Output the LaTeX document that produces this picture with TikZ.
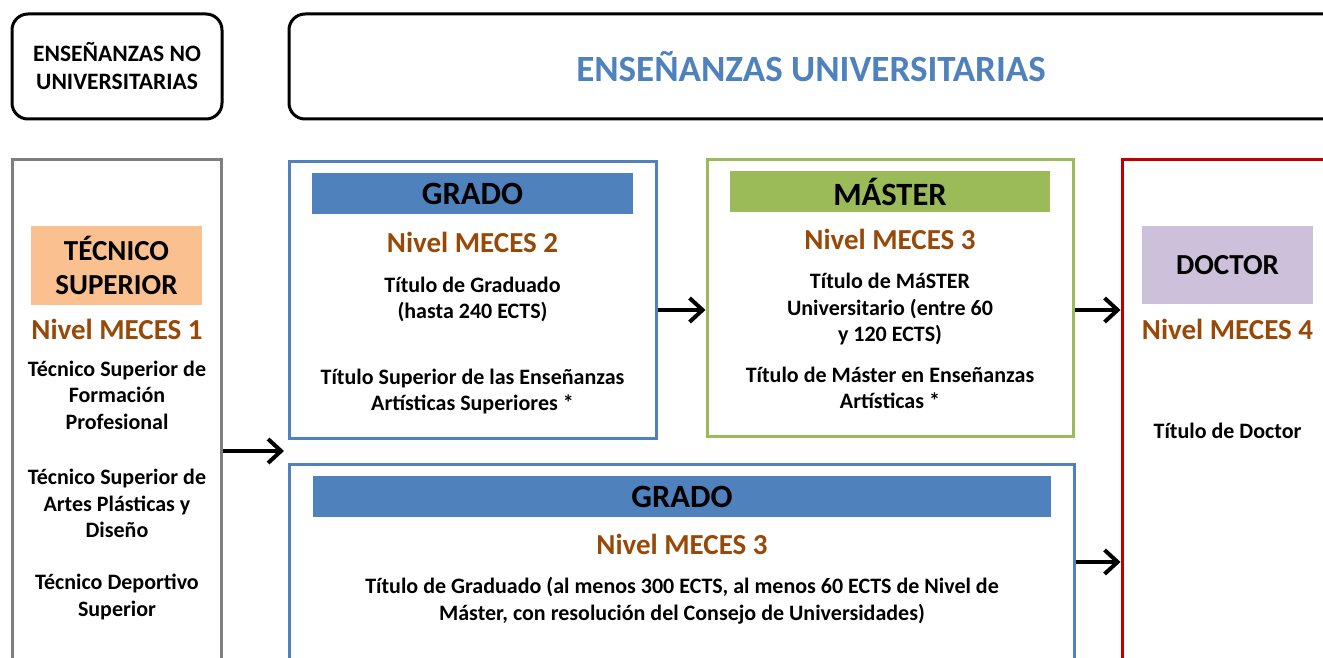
\documentclass[tikz,border=0pt]{standalone}
\usepackage{fontspec}
\setmainfont{Carlito}
\usetikzlibrary{arrows.meta}
\definecolor{blu}{HTML}{4F81BD}
\definecolor{grn}{HTML}{9BBB59}
\definecolor{brn}{HTML}{984807}
\definecolor{org}{HTML}{FAC090}
\definecolor{prp}{HTML}{CCC0DA}
\definecolor{rd}{HTML}{C00000}
\definecolor{gry}{HTML}{7F7F7F}
\begin{document}
\begin{tikzpicture}[x=1pt,y=-1pt,
  frame/.style={draw, line width=3pt, inner sep=0pt, rectangle},
  topbox/.style={draw=black, line width=3pt, rounded corners=16pt, inner sep=0pt},
  hdr/.style={inner sep=0pt, font=\fontsize{32.5}{34}\selectfont\bfseries},
  level/.style={text=brn, inner sep=0pt, font=\fontsize{29}{32}\selectfont\bfseries},
  body/.style={inner sep=0pt, align=center, font=\fontsize{22}{26.5}\selectfont\bfseries},
  arr/.style={line width=4pt, -{Straight Barb[length=13pt,width=24pt,line width=4pt]}}
]
\useasboundingbox (0,0) rectangle (1323,658);
% top boxes
\node[topbox, minimum width=210pt, minimum height=105pt] (tnu) at (117,66.5) {};
\node[inner sep=0pt, align=center, font=\fontsize{23.5}{28}\selectfont\bfseries] (tnut) at (117,66.5) {ENSEÑANZAS NO\\UNIVERSITARIAS};
\node[topbox, minimum width=1060pt, minimum height=105pt] (tu) at (819,66.5) {};
\node[inner sep=0pt, text=blu, font=\fontsize{37}{40}\selectfont\bfseries] (tut) at (811,67) {ENSEÑANZAS UNIVERSITARIAS};
% left column
\node[frame, draw=gry, minimum width=209pt, minimum height=530pt] (left) at (116.5,425) {};
\node[fill=org, minimum width=171pt, minimum height=79pt, inner sep=0pt, align=center, font=\fontsize{29}{34}\selectfont\bfseries] (tec) at (116.5,265.5) {TÉCNICO\\SUPERIOR};
\node[level] (m1) at (117,329) {Nivel MECES 1};
\node[body] (t1) at (117,395) {Técnico Superior de\\Formación\\Profesional};
\node[body] (t2) at (117,503.5) {Técnico Superior de\\Artes Plásticas y\\Diseño};
\node[body] (t3) at (117,597) {Técnico Deportivo\\Superior};
% grado 1
\node[frame, draw=blu, minimum width=367pt, minimum height=276pt] (g1) at (472.5,300) {};
\node[hdr, fill=blu, minimum width=321pt, minimum height=41pt] (g1h) at (472.5,193.5) {GRADO};
\node[level] (m2) at (472.5,242) {Nivel MECES 2};
\node[body] (g1a) at (472.5,299.5) {Título de Graduado\\(hasta 240 ECTS)};
\node[body] (g1b) at (472.5,391.5) {Título Superior de las Enseñanzas\\Artísticas Superiores *};
% master
\node[frame, draw=grn, minimum width=366pt, minimum height=276pt] (ms) at (890,298) {};
\node[hdr, fill=grn, minimum width=320pt, minimum height=41pt] (msh) at (890,191.5) {MÁSTER};
\node[level] (m3) at (890,239) {Nivel MECES 3};
\node[body] (msa) at (890,309.5) {Título de MáSTER\\Universitario (entre 60\\y 120 ECTS)};
\node[body] (msb) at (890,388) {Título de Máster en Enseñanzas\\Artísticas *};
% doctor
\node[frame, draw=rd, minimum width=230pt, minimum height=530pt] (dr) at (1237,425) {};
\node[fill=prp, minimum width=171pt, minimum height=78pt, inner sep=0pt, font=\fontsize{29}{32}\selectfont\bfseries] (drh) at (1227.5,265) {DOCTOR};
\node[level] (m4) at (1227.5,329) {Nivel MECES 4};
\node[body] (dra) at (1227.5,431) {Título de Doctor};
% grado 2
\node[frame, draw=blu, minimum width=785pt, minimum height=220pt] (g2) at (681.5,574) {};
\node[hdr, fill=blu, minimum width=738pt, minimum height=41pt] (g2h) at (682,496.5) {GRADO};
\node[level] (m5) at (682,544) {Nivel MECES 3};
\node[body] (g2a) at (682,600.5) {Título de Graduado (al menos 300 ECTS, al menos 60 ECTS de Nivel de\\Máster, con resolución del Consejo de Universidades)};
% arrows
\coordinate (e1) at (284,451);
\draw[arr] (left.east |- e1) -- (e1);
\draw[arr] (g1.east |- 0,310) -- (ms.west |- 0,310);
\draw[arr] (ms.east |- 0,310) -- (dr.west |- 0,310);
\draw[arr] (g2.east |- 0,562) -- (dr.west |- 0,562);
\end{tikzpicture}
\end{document}
